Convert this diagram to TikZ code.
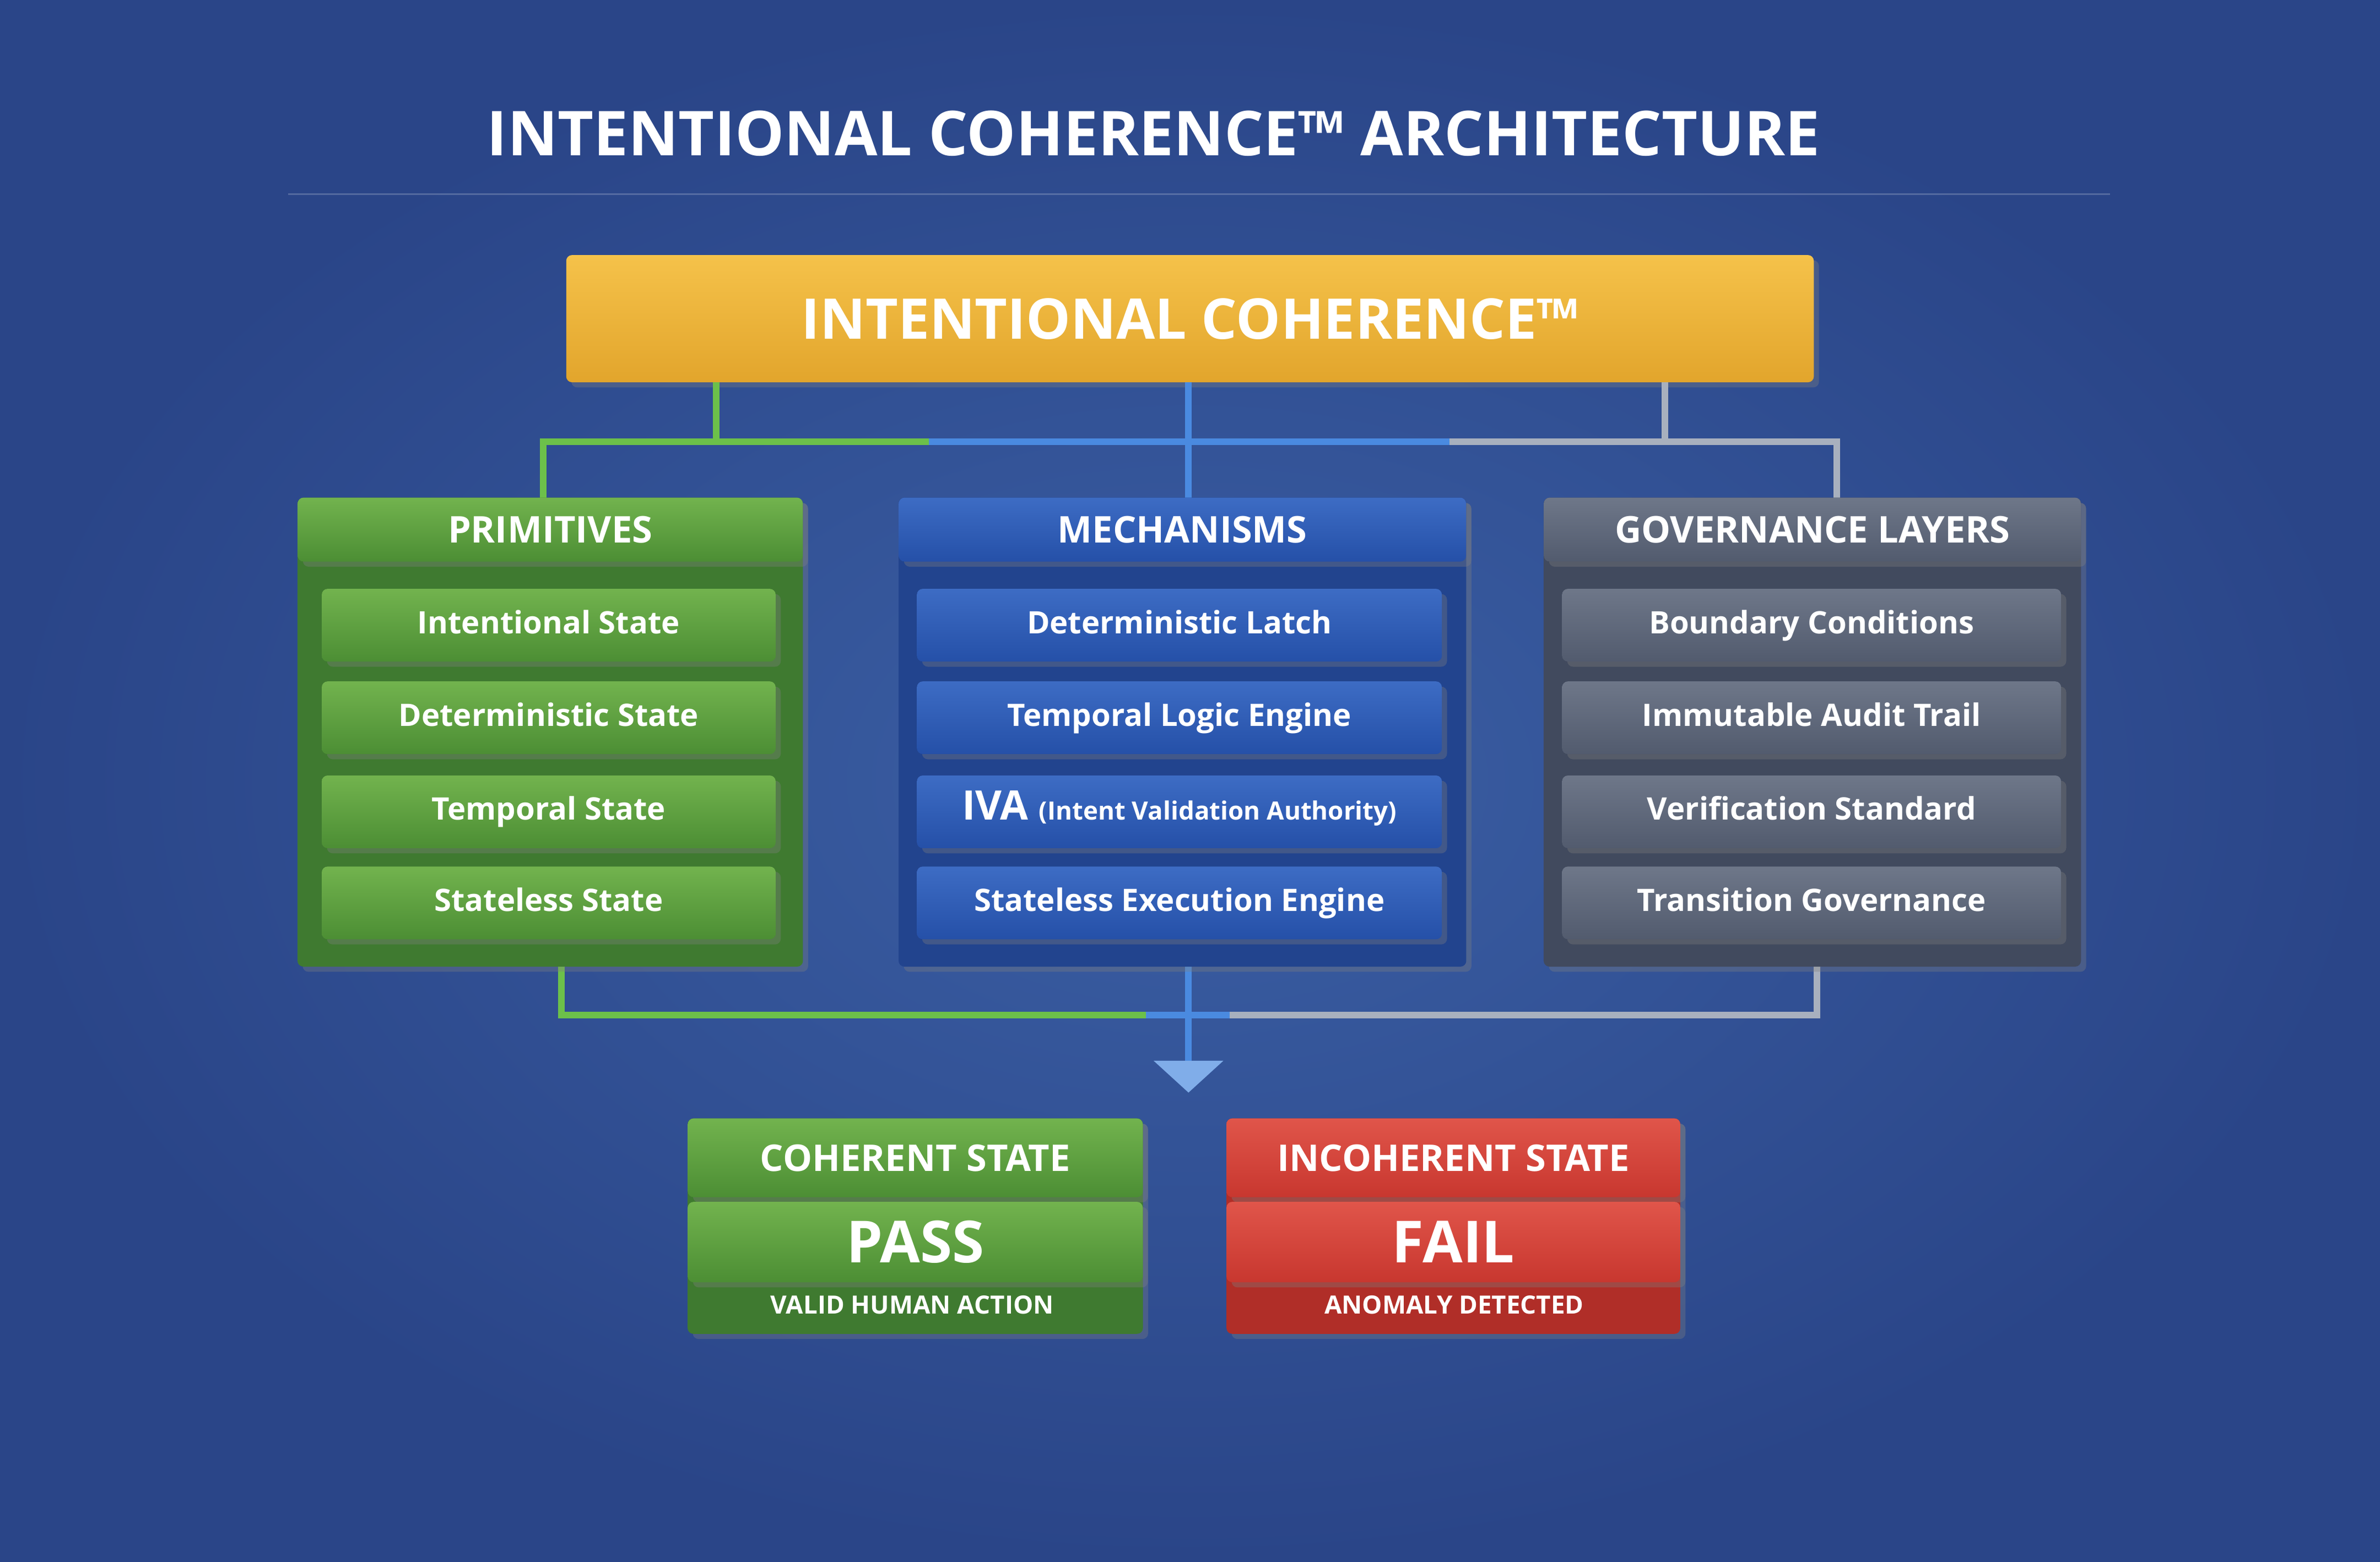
\documentclass[tikz,border=0pt]{standalone}
\usepackage{fontspec}
\setmainfont{Open Sans}
\usetikzlibrary{shadows}
\definecolor{bgA}{HTML}{3B5FA4}
\definecolor{bgB}{HTML}{2A4588}
\definecolor{goldT}{HTML}{F5C24A}
\definecolor{goldB}{HTML}{E2A52C}
\definecolor{grnT}{HTML}{72B34E}
\definecolor{grnB}{HTML}{4C8E34}
\definecolor{grnP}{HTML}{3F7A30}
\definecolor{bluT}{HTML}{3D6CC4}
\definecolor{bluB}{HTML}{2550A8}
\definecolor{bluP}{HTML}{22448E}
\definecolor{gryT}{HTML}{6E7789}
\definecolor{gryB}{HTML}{525B6E}
\definecolor{gryP}{HTML}{414A5E}
\definecolor{redT}{HTML}{E0554A}
\definecolor{redB}{HTML}{C8372F}
\definecolor{redP}{HTML}{B02E28}
\definecolor{lgrn}{HTML}{6CC04A}
\definecolor{lblu}{HTML}{4A8AE0}
\definecolor{lgry}{HTML}{A8B0BE}
\tikzset{
 box/.style={rounded corners=3pt, inner sep=0pt, text=white, font=\bfseries, drop shadow={opacity=0.35}},
 item/.style={box, font=\bfseries\fontsize{16}{18}\selectfont, text height=12pt, text depth=3.5pt},
 hdr/.style={box, font=\bfseries\fontsize{19}{22}\selectfont},
 panel/.style={rounded corners=3pt, drop shadow={opacity=0.35}},
 lnk/.style={line width=3.4pt},
}
\begin{document}
\begin{tikzpicture}[x=0.02755cm,y=-0.02755cm]
\useasboundingbox (0,0) rectangle (1568,1029);
\shade[inner color=bgA, outer color=bgB] (0,0) rectangle (1568,1029);
\node[text=white, font=\bfseries\fontsize{32}{36}\selectfont] (title) at (760,88) {INTENTIONAL COHERENCE™ ARCHITECTURE};
\draw[white, opacity=0.2, line width=1pt] (190,128) coordinate (tl) -- (1390,128) coordinate (tr);
% top box
\node[box, top color=goldT, bottom color=goldB, font=\bfseries\fontsize{29}{32}\selectfont, minimum width=22.65cm, minimum height=2.31cm] (top) at (784,210) {INTENTIONAL COHERENCE™};
% top connectors
\coordinate (g1) at (472,252); \coordinate (g2) at (472,291); \coordinate (g3) at (358,291); \coordinate (g4) at (358,328);
\coordinate (b1) at (783,252); \coordinate (b2) at (783,328);
\coordinate (r1) at (1097,252); \coordinate (r2) at (1097,291); \coordinate (r3) at (1210,291); \coordinate (r4) at (1210,328);
\coordinate (m1) at (612,291); \coordinate (m2) at (955,291);
\draw[lnk, lgrn] (g1) -- (g2) -- (g3) -- (g4);
\draw[lnk, lgrn] (g2) -- (m1);
\draw[lnk, lblu] (m1) -- (m2);
\draw[lnk, lblu] (b1) -- (b2);
\draw[lnk, lgry] (r1) -- (r2) -- (r3) -- (r4);
\draw[lnk, lgry] (m2) -- (r2);
% bottom connectors
\coordinate (pg1) at (370,637); \coordinate (pg2) at (370,669); \coordinate (pg3) at (755,669);
\coordinate (pr1) at (1197,637); \coordinate (pr2) at (1197,669); \coordinate (pr3) at (810,669);
\coordinate (pb1) at (783,637); \coordinate (pb2) at (783,700);
\draw[lnk, lgrn] (pg1) -- (pg2) -- (pg3);
\draw[lnk, lgry] (pr1) -- (pr2) -- (pr3);
\draw[lnk, lblu] (pg3) -- (pr3);
\draw[lnk, lblu] (pb1) -- (pb2);
\fill[lblu!70!white] (760,699) -- (806,699) -- (783,720) -- cycle;
% panels
\fill[panel, grnP] (196,328) rectangle (529,637);
\fill[panel, bluP] (592,328) rectangle (966,637);
\fill[panel, gryP] (1017,328) rectangle (1371,637);
\node[hdr, top color=grnT, bottom color=grnB, minimum width=9.17cm, minimum height=1.16cm] (hp) at (362.5,349) {PRIMITIVES};
\node[hdr, top color=bluT, bottom color=bluB, minimum width=10.3cm, minimum height=1.16cm] (hm) at (779,349) {MECHANISMS};
\node[hdr, top color=gryT, bottom color=gryB, minimum width=9.75cm, minimum height=1.16cm] (hg) at (1194,349) {GOVERNANCE LAYERS};
\foreach \n/\y/\t in {1/412/Intentional State, 2/473/Deterministic State, 3/535/Temporal State, 4/595/Stateless State}{
 \node[item, top color=grnT, bottom color=grnB, minimum width=8.24cm, minimum height=1.32cm] (p\n) at (361.5,\y) {\t};}
\foreach \n/\y/\t in {1/412/Deterministic Latch, 2/473/Temporal Logic Engine, 3/535/{\fontsize{21}{24}\selectfont IVA \fontsize{13}{16}\selectfont(Intent Validation Authority)}, 4/595/Stateless Execution Engine}{
 \node[item, top color=bluT, bottom color=bluB, minimum width=9.53cm, minimum height=1.32cm] (q\n) at (777,\y) {\t};}
\foreach \n/\y/\t in {1/412/Boundary Conditions, 2/473/Immutable Audit Trail, 3/535/Verification Standard, 4/595/Transition Governance}{
 \node[item, top color=gryT, bottom color=gryB, minimum width=9.06cm, minimum height=1.32cm] (s\n) at (1193.5,\y) {\t};}
% results
\fill[panel, grnP] (453,737) rectangle (753,879);
\fill[panel, redP] (808,737) rectangle (1107,879);
\node[hdr, top color=grnT, bottom color=grnB, minimum width=8.26cm, minimum height=1.43cm] (ch) at (603,763) {COHERENT STATE};
\node[box, top color=grnT, bottom color=grnB, font=\bfseries\fontsize{30}{34}\selectfont, minimum width=8.26cm, minimum height=1.46cm, drop shadow={opacity=0}] (cp) at (603,818.5) {PASS};
\node[text=white, font=\bfseries\fontsize{13}{16}\selectfont] (cs) at (601,860) {VALID HUMAN ACTION};
\node[hdr, top color=redT, bottom color=redB, minimum width=8.24cm, minimum height=1.43cm] (ih) at (957.5,763) {INCOHERENT STATE};
\node[box, top color=redT, bottom color=redB, font=\bfseries\fontsize{30}{34}\selectfont, minimum width=8.24cm, minimum height=1.46cm, drop shadow={opacity=0}] (ip) at (957.5,818.5) {FAIL};
\node[text=white, font=\bfseries\fontsize{13}{16}\selectfont] (is) at (958,860) {ANOMALY DETECTED};
\end{tikzpicture}
\end{document}
